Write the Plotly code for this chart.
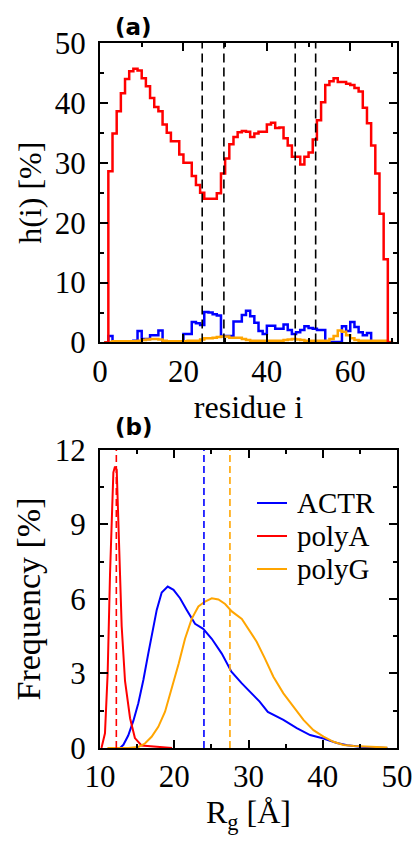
import plotly.graph_objects as go

# ---------------- panel (a): per-residue helicity h(i) [%] ----------------
residues = list(range(1, 71))
h_polyA = [0.0, 28.6, 34.9, 38.6, 41.6, 44.0, 45.3, 45.7, 45.4, 44.1,
           42.8, 40.8, 39.3, 38.6, 36.4, 35.0, 33.6, 33.6, 31.4, 30.0,
           30.0, 27.8, 26.3, 25.0, 24.0, 24.0, 24.0, 24.9, 28.2, 30.7,
           33.1, 34.3, 35.1, 35.3, 35.2, 34.3, 34.9, 35.2, 35.2, 36.4,
           36.7, 35.8, 35.9, 34.1, 32.9, 31.0, 31.0, 29.7, 31.0, 31.7,
           33.9, 37.1, 40.1, 43.0, 43.6, 44.1, 43.5, 43.5, 43.2, 43.0,
           42.5, 41.9, 39.2, 36.6, 32.9, 28.2, 21.5, 13.9, 0.0, 0.0]
h_ACTR = [0.0, 1.1, 0.1, 0.1, 0.1, 0.1, 0.2, 0.3, 1.9, 0.6,
          0.6, 1.2, 1.2, 2.0, 0.1, 0.1, 0.0, 0.1, 0.1, 1.4,
          1.4, 3.4, 3.2, 2.9, 5.1, 5.0, 4.7, 4.5, 1.1, 1.1,
          1.1, 3.5, 3.5, 4.6, 5.3, 4.4, 3.3, 1.9, 1.4, 2.8,
          2.8, 2.3, 2.3, 3.0, 2.1, 1.4, 1.7, 2.1, 2.7, 2.4,
          2.3, 2.1, 2.1, 0.1, 0.1, 0.1, 0.1, 2.7, 1.9, 3.4,
          2.6, 1.7, 1.2, 1.6, 0.1, 0.1, 0.1, 0.1, 0.0, 0.0]
h_polyG = [0.0, 0.1, 0.2, 0.2, 0.2, 0.2, 0.2, 0.2, 0.3, 0.4,
           0.5, 0.6, 0.6, 0.5, 0.3, 0.2, 0.2, 0.2, 0.2, 0.2,
           0.3, 0.3, 0.3, 0.5, 0.7, 0.7, 0.8, 0.9, 1.0, 1.0,
           0.8, 0.8, 0.8, 0.6, 0.4, 0.3, 0.3, 0.3, 0.3, 0.3,
           0.3, 0.3, 0.3, 0.4, 0.5, 0.6, 0.5, 0.4, 0.3, 0.3,
           0.3, 0.3, 0.3, 0.3, 0.6, 1.1, 2.0, 1.8, 1.2, 0.7,
           0.4, 0.3, 0.3, 0.3, 0.3, 0.3, 0.3, 0.3, 0.1, 0.0]
helix_bounds = [24.5, 29.7, 46.8, 51.7]

# ---------------- panel (b): Rg distributions ----------------
rg_ACTR_x = [12.7, 13.15, 13.8, 14.5, 15.16, 15.84, 16.5, 17.2, 17.64, 18.31,
             19.12, 19.9, 20.78, 21.68, 22.8, 23.9, 25.05, 26.4, 27.7, 29.1,
             30.4, 31.5, 32.6, 34.7, 36.5, 38.3, 40.1, 41.9, 43.3, 45.05, 48.7]
rg_ACTR_y = [0.0, 0.13, 0.5, 1.1, 1.8, 2.74, 3.8, 4.9, 5.56, 6.26,
             6.5, 6.37, 6.03, 5.56, 5.0, 4.8, 4.4, 3.8, 3.07, 2.6,
             2.2, 1.87, 1.45, 1.13, 0.8, 0.52, 0.38, 0.2, 0.11, 0.05, 0.0]
rg_polyA_x = [10.2, 10.67, 11.03, 11.35, 11.8, 12.02, 12.25, 12.56, 12.92, 13.37,
              14.05, 14.7, 15.6, 19.7]
rg_polyA_y = [0.0, 0.59, 3.0, 7.0, 11.1, 11.33, 11.2, 8.4, 4.9, 2.7,
              1.2, 0.4, 0.1, 0.0]
rg_polyG_x = [11.0, 13.8, 15.16, 16.05, 16.95, 17.85, 18.76, 19.66, 20.6, 21.45,
              22.35, 23.25, 24.15, 25.05, 25.95, 26.85, 27.75, 29.1, 30.2, 31.1,
              32.2, 33.35, 34.7, 36.05, 37.4, 38.75, 40.1, 41.45, 42.8, 44.2,
              46.0, 48.7]
rg_polyG_y = [0.0, 0.0, 0.04, 0.18, 0.45, 0.85, 1.46, 2.4, 3.4, 4.4,
              5.2, 5.7, 5.9, 6.03, 5.98, 5.8, 5.5, 5.2, 4.68, 4.28,
              3.61, 2.87, 2.2, 1.66, 1.13, 0.72, 0.46, 0.25, 0.12, 0.08,
              0.05, 0.02]
series_names = ["ACTR", "polyA", "polyG"]
series_colors = ["#0000ff", "#ff0000", "#ffa500"]
mean_rg = [24.0, 12.2, 27.5]

SERIF = "Liberation Serif"
fig = go.Figure()

# panel (a)
for name, vals, col in [("ACTR", h_ACTR, "#0000ff"), ("polyG", h_polyG, "#ffa500"),
                        ("polyA", h_polyA, "#ff0000")]:
    fig.add_trace(go.Scatter(x=residues, y=vals, mode="lines", line_shape="hv",
                             line=dict(color=col, width=2.5), showlegend=False,
                             xaxis="x", yaxis="y", name=name))
for xb in helix_bounds:
    fig.add_shape(type="line", x0=xb, x1=xb, y0=0, y1=1, xref="x", yref="y domain",
                  line=dict(color="black", width=1.6, dash="9px,5px"))

# panel (b)
rg_data = [(rg_ACTR_x, rg_ACTR_y), (rg_polyA_x, rg_polyA_y), (rg_polyG_x, rg_polyG_y)]
for name, (xs, ys), col in zip(series_names, rg_data, series_colors):
    fig.add_trace(go.Scatter(x=xs, y=ys, mode="lines", line=dict(color=col, width=2),
                             name=name, xaxis="x2", yaxis="y2", showlegend=False))
for m, col in zip(mean_rg, series_colors):
    fig.add_shape(type="line", x0=m, x1=m, y0=0, y1=1, xref="x2", yref="y2 domain",
                  line=dict(color=col, width=1.6, dash="7px,4px"))

# legend of panel (b), drawn as line samples + text (compact spacing as in the figure)
leg_y = [0.3475, 0.3007, 0.2539]
annotations = []
for name, col, ly in zip(series_names, series_colors, leg_y):
    fig.add_shape(type="line", x0=0.5286, x1=0.6296, y0=ly, y1=ly, xref="paper", yref="paper",
                  line=dict(color=col, width=2))
    annotations.append(dict(text=name, x=0.6566, y=ly, xref="paper", yref="paper",
                            xanchor="left", yanchor="middle", showarrow=False,
                            font=dict(family=SERIF, size=29, color="black")))

axis_common = dict(showline=True, linecolor="black", linewidth=2, mirror="allticks",
                   ticks="inside", ticklen=8, tickwidth=1.5, tickcolor="black",
                   showgrid=False, zeroline=False, automargin=False,
                   tickfont=dict(family=SERIF, size=31, color="black"))

def minor(d):
    return dict(ticks="inside", ticklen=4, tickwidth=1.5, tickcolor="black", dtick=d,
                showgrid=False)

annotations += [
    dict(text="<b>(a)</b>", x=0.045, y=1.0227, xref="paper", yref="paper",
         xanchor="left", yanchor="middle", showarrow=False,
         font=dict(family="DejaVu Sans", size=23, color="black")),
    dict(text="<b>(b)</b>", x=0.045, y=0.455, xref="paper", yref="paper",
         xanchor="left", yanchor="middle", showarrow=False,
         font=dict(family="DejaVu Sans", size=23, color="black")),
]

fig.update_layout(
    width=416, height=841,
    margin=dict(l=100, r=19, t=43, b=93, pad=0, autoexpand=False),
    paper_bgcolor="white", plot_bgcolor="white",
    font=dict(family=SERIF, color="black"),
    showlegend=False,
    xaxis=dict(axis_common, domain=[0, 1], anchor="y", range=[0, 71.2], tick0=0, dtick=20,
               minor=minor(10), ticklabelstandoff=0,
               title=dict(text="residue i", font=dict(family=SERIF, size=32), standoff=2)),
    yaxis=dict(axis_common, domain=[0.5752, 1], anchor="x", range=[0, 50], tick0=0, dtick=10,
               minor=minor(5), ticklabelstandoff=6,
               title=dict(text="h(i) [%]", font=dict(family=SERIF, size=32), standoff=4)),
    xaxis2=dict(axis_common, domain=[0, 1], anchor="y2", range=[10, 50], tick0=10, dtick=10,
                minor=minor(5), ticklabelstandoff=0,
                title=dict(text="R<sub>g</sub> [Å]", font=dict(family=SERIF, size=32), standoff=2)),
    yaxis2=dict(axis_common, domain=[0, 0.4227], anchor="x2", range=[0, 12], tick0=0, dtick=3,
                minor=minor(1.5), ticklabelstandoff=6,
                title=dict(text="Frequency [%]", font=dict(family=SERIF, size=34), standoff=4)),
    annotations=annotations,
)

fig.write_html("out.html")
